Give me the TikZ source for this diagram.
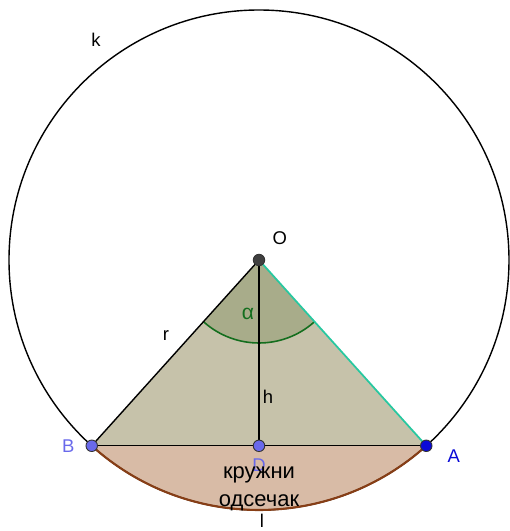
\documentclass[tikz,border=0pt]{standalone}
\usepackage{fontspec}
\setmainfont{Liberation Sans}
\usetikzlibrary{positioning, backgrounds}

\definecolor{triFill}{RGB}{198,194,170}
\definecolor{sectorFill}{RGB}{168,172,138}
\definecolor{segFill}{RGB}{216,187,166}
\definecolor{arcBrown}{RGB}{135,62,22}
\definecolor{sideTeal}{RGB}{40,200,160}
\definecolor{angleGreen}{RGB}{20,110,30}
\definecolor{lightBlue}{RGB}{105,105,235}
\definecolor{deepBlue}{RGB}{10,10,215}

\begin{document}
\begin{tikzpicture}[
        % Style for the points of the figure
        point/.style={
            circle, draw=black!80, line width=0.5pt,
            inner sep=0pt, minimum size=2.3mm
        },
        % Style for the letters beside them
        ptLabel/.style={font=\fontsize{10.5}{12}\selectfont},
        % Style for the text in the segment
        segText/.style={font=\fontsize{12.5}{14}\selectfont, inner sep=0pt},
        segLine/.style={line width=0.8pt}
    ]
    \useasboundingbox (-5.18,-5.42) rectangle (5.0,5.2);

        % --- Nodes ---
        \node [point, fill=black!75] (O) at (0,0) {};
        \node [point, fill=lightBlue] (B) at (228:5) {};
        \node [point, fill=deepBlue] (A) at (312:5) {};
        \node [point, fill=lightBlue] (D) at (0,-3.716) {};

        \begin{scope}[on background layer]
        % Fills
        \fill[segFill] (B.center) arc[start angle=228, end angle=312, radius=5] -- cycle;
        \fill[triFill] (O.center) -- (B.center) -- (A.center) -- cycle;
        \fill[sectorFill] (O.center) -- (228:1.66) arc[start angle=228, end angle=312, radius=1.66] -- cycle;

        % The circle k and the arc l
        \draw[segLine] (O.center) circle[radius=5];
        \draw[arcBrown, line width=1.2pt] (B.center) arc[start angle=228, end angle=312, radius=5];
        \draw[angleGreen, line width=0.9pt] (228:1.66) arc[start angle=228, end angle=312, radius=1.66];

        % --- Edges ---
        \draw[segLine] (O.center) -- (B.center);
        \draw[sideTeal, line width=1pt] (O.center) -- (A.center);
        \draw[segLine] (B.center) -- (A.center);
        \draw[segLine] (O.center) -- (D.center);
        \end{scope}

        % --- Labels ---
        \node [ptLabel] (kLabel) at (-3.26,4.4) {k};
        \node [ptLabel, above right=0.1cm and 0.06cm of O] (oLabel) {O};
        \node [ptLabel] (rLabel) at (-1.86,-1.52) {r};
        \node [ptLabel, text=angleGreen, font=\fontsize{12}{14}\selectfont] (alphaLabel) at (-0.22,-1.08) {α};
        \node [ptLabel] (hLabel) at (0.18,-2.74) {h};
        \node [ptLabel, text=lightBlue, left=0.1cm of B] (bLabel) {B};
        \node [ptLabel, text=lightBlue, below=0.02cm of D] (dLabel) {D};
        \node [ptLabel, text=deepBlue, right=0.18cm of A, yshift=-0.2cm] (aLabel) {A};
        \node [segText] (segTop) at (0,-4.3) {кружни};
        \node [segText, below=0.22cm of segTop] (segBottom) {одсечак};
        \node [ptLabel] (lLabel) at (0.06,-5.22) {l};

\end{tikzpicture}
\end{document}
